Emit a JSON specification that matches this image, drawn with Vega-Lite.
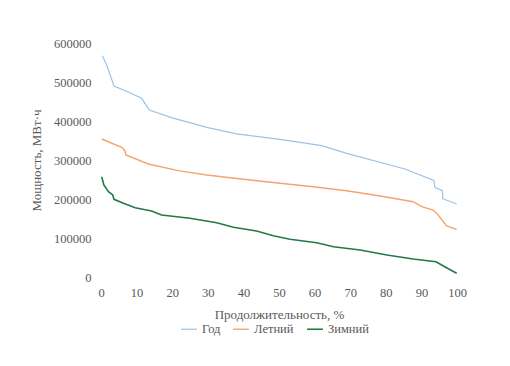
{
  "$schema": "https://vega.github.io/schema/vega-lite/v6.json",
  "width": 356,
  "height": 234,
  "autosize": {"type": "none"},
  "padding": {"left": 101, "top": 43, "right": 53, "bottom": 89},
  "background": "white",
  "config": {
    "view": {"stroke": null},
    "font": "Times New Roman",
    "axis": {"grid": false, "domain": false, "ticks": false, "labelFlush": false, "labelColor": "#595959", "titleColor": "#595959", "labelFont": "Times New Roman", "titleFont": "Liberation Serif", "labelFontSize": 12.5, "titleFontSize": 13, "titleFontWeight": "normal"},
    "legend": {"labelFont": "Times New Roman", "labelFontSize": 12.5, "labelColor": "#595959"}
  },
  "data": {"values": [
    {"x": 0.4, "y": 567000, "s": "Год"},
    {"x": 1.6, "y": 543600, "s": "Год"},
    {"x": 3.65, "y": 489700, "s": "Год"},
    {"x": 7.5, "y": 475000, "s": "Год"},
    {"x": 11.4, "y": 458200, "s": "Год"},
    {"x": 13.6, "y": 428200, "s": "Год"},
    {"x": 20, "y": 408000, "s": "Год"},
    {"x": 30, "y": 383000, "s": "Год"},
    {"x": 38.1, "y": 367000, "s": "Год"},
    {"x": 50.3, "y": 353000, "s": "Год"},
    {"x": 62, "y": 336700, "s": "Год"},
    {"x": 69, "y": 317100, "s": "Год"},
    {"x": 85.4, "y": 276900, "s": "Год"},
    {"x": 93.5, "y": 247900, "s": "Год"},
    {"x": 93.8, "y": 230000, "s": "Год"},
    {"x": 95.9, "y": 221300, "s": "Год"},
    {"x": 96.0, "y": 200800, "s": "Год"},
    {"x": 99.9, "y": 187200, "s": "Год"},
    {"x": 0.2, "y": 353800, "s": "Летний"},
    {"x": 5.8, "y": 332600, "s": "Летний"},
    {"x": 6.7, "y": 323800, "s": "Летний"},
    {"x": 7.0, "y": 312800, "s": "Летний"},
    {"x": 13.3, "y": 289700, "s": "Летний"},
    {"x": 21.7, "y": 272600, "s": "Летний"},
    {"x": 29.7, "y": 261500, "s": "Летний"},
    {"x": 40, "y": 250500, "s": "Летний"},
    {"x": 50.3, "y": 240300, "s": "Летний"},
    {"x": 59.6, "y": 231500, "s": "Летний"},
    {"x": 69, "y": 221300, "s": "Летний"},
    {"x": 78.4, "y": 207700, "s": "Летний"},
    {"x": 87.7, "y": 193100, "s": "Летний"},
    {"x": 90.1, "y": 180300, "s": "Летний"},
    {"x": 93.3, "y": 171800, "s": "Летний"},
    {"x": 94.7, "y": 159000, "s": "Летний"},
    {"x": 97.1, "y": 130800, "s": "Летний"},
    {"x": 99.9, "y": 122300, "s": "Летний"},
    {"x": 0.2, "y": 257200, "s": "Зимний"},
    {"x": 0.8, "y": 235900, "s": "Зимний"},
    {"x": 2.1, "y": 218700, "s": "Зимний"},
    {"x": 3.3, "y": 210300, "s": "Зимний"},
    {"x": 3.65, "y": 199200, "s": "Зимний"},
    {"x": 6.3, "y": 189000, "s": "Зимний"},
    {"x": 9.6, "y": 177700, "s": "Зимний"},
    {"x": 14.2, "y": 169200, "s": "Зимний"},
    {"x": 17.0, "y": 159000, "s": "Зимний"},
    {"x": 25, "y": 150500, "s": "Зимний"},
    {"x": 32.5, "y": 139200, "s": "Зимний"},
    {"x": 37.2, "y": 127400, "s": "Зимний"},
    {"x": 43.7, "y": 117900, "s": "Зимний"},
    {"x": 48.4, "y": 105900, "s": "Зимний"},
    {"x": 53.1, "y": 97000, "s": "Зимний"},
    {"x": 60.6, "y": 87900, "s": "Зимний"},
    {"x": 65.3, "y": 77700, "s": "Зимний"},
    {"x": 72.8, "y": 69200, "s": "Зимний"},
    {"x": 80.3, "y": 56400, "s": "Зимний"},
    {"x": 87.7, "y": 46200, "s": "Зимний"},
    {"x": 94.1, "y": 39200, "s": "Зимний"},
    {"x": 96.2, "y": 28200, "s": "Зимний"},
    {"x": 98.2, "y": 17900, "s": "Зимний"},
    {"x": 99.9, "y": 9500, "s": "Зимний"}
  ]},
  "mark": {"type": "line", "interpolate": "linear"},
  "encoding": {
    "x": {"field": "x", "type": "quantitative", "scale": {"domain": [0, 100], "nice": false}, "axis": {"values": [0, 10, 20, 30, 40, 50, 60, 70, 80, 90, 100], "labelFlush": false, "labelPadding": 9, "title": "Продолжительность, %", "titlePadding": 10}},
    "y": {"field": "y", "type": "quantitative", "scale": {"domain": [0, 600000], "nice": false}, "axis": {"values": [0, 100000, 200000, 300000, 400000, 500000, 600000], "labelFlush": false, "format": "d", "labelPadding": 10, "title": "Мощность, МВт·ч", "titlePadding": 10}},
    "color": {"field": "s", "type": "nominal", "scale": {"domain": ["Год", "Летний", "Зимний"], "range": ["#9DC3E6", "#F4A46E", "#217A45"]}, "legend": {"orient": "none", "legendX": 79, "legendY": 277, "direction": "horizontal", "title": null, "symbolType": "stroke", "symbolStrokeWidth": 2, "symbolSize": 250, "columnPadding": 9, "labelOffset": 4, "padding": 0}},
    "strokeWidth": {"field": "s", "type": "nominal", "scale": {"domain": ["Год", "Летний", "Зимний"], "range": [1.2, 1.6, 2]}, "legend": null}
  }
}
